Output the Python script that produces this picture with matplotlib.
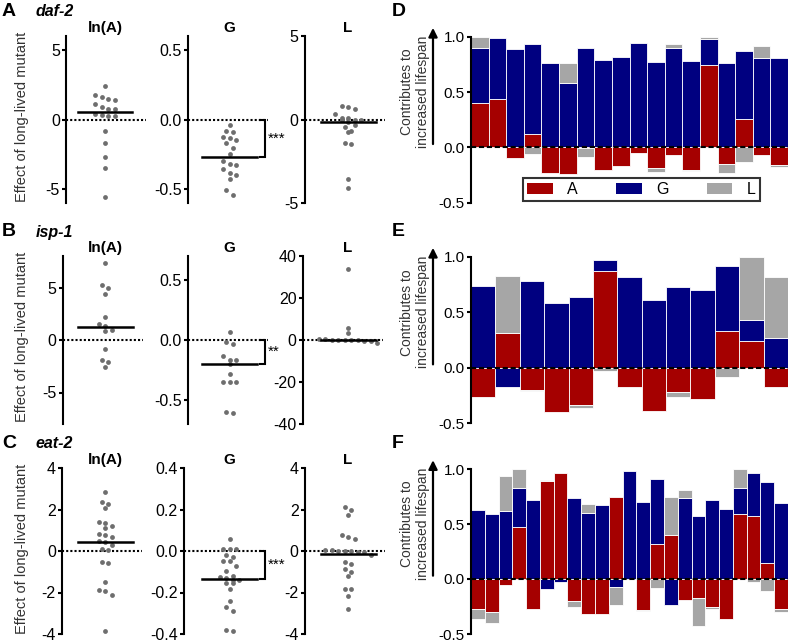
import numpy as np
import matplotlib
matplotlib.use('Agg')
import matplotlib.pyplot as plt
import matplotlib.transforms as mtransforms
from matplotlib.patches import Patch

plt.rcParams['font.family'] = ['Liberation Sans', 'DejaVu Sans']
plt.rcParams['axes.unicode_minus'] = False

# ---- scatter data (effect of long-lived mutant) ----
daf2_lnA = [2.42, 1.77, 1.63, 1.48, 1.41, 1.10, 0.93, 0.79, 0.74, 0.40, 0.30, 0.25, 0.22,
            -0.81, -1.70, -2.66, -3.49, -5.55]
daf2_G = [-0.038, -0.081, -0.089, -0.127, -0.134, -0.144, -0.167, -0.206, -0.246, -0.301,
          -0.318, -0.325, -0.359, -0.388, -0.397, -0.431, -0.51, -0.545]
daf2_L = [0.82, 0.72, 0.64, 0.32, 0.06, 0.06, 0.0, 0.0, -0.04, -0.16, -0.30, -0.42,
          -0.68, -0.76, -1.42, -1.46, -3.58, -4.10]
daf2_line = [0.53, -0.27, -0.14]

isp1_lnA = [7.3, 5.2, 5.0, 4.4, 2.2, 1.5, 1.3, 1.0, 0.85, -0.85, -1.9, -2.1, -2.55]
isp1_G = [0.064, -0.014, -0.033, -0.13, -0.17, -0.17, -0.20, -0.28, -0.35, -0.35, -0.35, -0.60, -0.61]
isp1_L = [33.6, 5.9, 3.2, 0.4, 0.3, 0.2, 0.1, 0.0, -0.1, -0.2, -0.3, -0.4, -1.6]
isp1_line = [1.27, -0.20, 0.0]

eat2_lnA = [2.84, 2.36, 2.28, 2.07, 1.38, 1.33, 1.20, 1.10, 0.80, 0.75, 0.67, 0.46, 0.43, 0.27,
            0.10, 0.03, -0.52, -0.60, -1.48, -1.87, -1.92, -2.10, -3.86]
eat2_G = [0.056, 0.012, 0.010, 0.008, -0.02, -0.03, -0.05, -0.05, -0.07, -0.095, -0.12, -0.125,
          -0.13, -0.14, -0.14, -0.155, -0.155, -0.185, -0.24, -0.27, -0.29, -0.38, -0.385]
eat2_L = [2.14, 2.00, 1.73, 0.78, 0.67, 0.56, 0.05, 0.03, 0.02, 0.0, -0.02, -0.03, -0.05,
          -0.20, -0.55, -0.65, -0.87, -1.00, -1.20, -1.84, -1.84, -2.15, -2.80]
eat2_line = [0.44, -0.135, -0.16]

col_titles = ['ln(A)', 'G', 'L']
stars = ['***', '**', '***']

# ---- stacked bar data (contributions) ----
daf2_posA = [0.40, 0.44, 0, 0.12, 0, 0, 0, 0, 0, 0, 0, 0, 0, 0.74, 0, 0.26, 0, 0]
daf2_posG = [0.50, 0.55, 0.89, 0.81, 0.76, 0.58, 0.90, 0.79, 0.82, 0.94, 0.77, 0.90, 0.78, 0.24, 0.76, 0.61, 0.81, 0.81]
daf2_posL = [0.10, 0, 0, 0, 0, 0.18, 0, 0, 0, 0, 0, 0.03, 0, 0.02, 0, 0, 0.11, 0]
daf2_negA = [0, 0, -0.10, 0, -0.23, -0.24, -0.01, -0.20, -0.17, -0.05, -0.19, -0.07, -0.20, 0, -0.15, 0, -0.07, -0.16]
daf2_negG = [0, 0, 0, 0, 0, 0, 0, 0, 0, 0, 0, 0, 0, 0, 0, 0, 0, 0]
daf2_negL = [0, 0, 0, -0.06, 0, 0, -0.08, 0, 0, 0, -0.03, 0, -0.01, 0, -0.08, -0.13, 0, -0.02]

isp1_posA = [0, 0.31, 0, 0, 0, 0.87, 0, 0, 0, 0, 0.33, 0.24, 0]
isp1_posG = [0.74, 0, 0.78, 0.58, 0.64, 0.10, 0.82, 0.61, 0.73, 0.70, 0.59, 0.19, 0.27]
isp1_posL = [0, 0.52, 0, 0, 0, 0, 0, 0, 0, 0, 0, 0.57, 0.55]
isp1_negA = [-0.26, 0, -0.20, -0.40, -0.34, 0, -0.17, -0.39, -0.22, -0.28, 0, 0, -0.17]
isp1_negG = [0, -0.17, 0, 0, 0, 0, 0, 0, 0, 0, 0, 0, 0]
isp1_negL = [0, 0, -0.01, 0, -0.02, -0.03, 0, 0, -0.04, 0, -0.08, 0, 0]

eat2_posA = [0, 0, 0, 0.47, 0, 0.89, 0.96, 0, 0, 0, 0.75, 0, 0, 0.32, 0.40, 0, 0, 0, 0, 0.59, 0.57, 0.15, 0]
eat2_posG = [0.63, 0.59, 0.62, 0.36, 0.72, 0, 0, 0.74, 0.60, 0.67, 0, 0.98, 0.70, 0.59, 0, 0.74, 0.57, 0.72, 0.64, 0.24, 0.39, 0.73, 0.69]
eat2_posL = [0, 0, 0.32, 0.17, 0, 0.01, 0, 0, 0.08, 0, 0, 0, 0, 0, 0.35, 0.07, 0, 0, 0, 0.17, 0, 0, 0]
eat2_negA = [-0.27, -0.30, -0.05, 0, -0.27, 0, 0, -0.20, -0.32, -0.32, 0, 0, -0.28, 0, 0, -0.19, -0.17, -0.25, -0.36, 0, 0, 0, -0.27]
eat2_negG = [0, 0, 0, 0, 0, -0.09, -0.03, 0, 0, 0, -0.07, 0, 0, 0, -0.24, 0, 0, 0, 0, 0, 0, 0, 0]
eat2_negL = [-0.09, -0.10, 0, 0, 0, 0, 0, -0.05, 0, 0, -0.17, 0, -0.01, -0.08, 0, 0, -0.26, -0.02, 0, 0, -0.03, -0.11, -0.03]

RED = '#a50000'
BLUE = '#000080'
GRAY = '#a6a6a6'
DOT = '#6e6e6e'

W, H = 789, 642
fig = plt.figure(figsize=(W / 100, H / 100), dpi=100)


def px_axes(x0, y0, x1, y1):
    return fig.add_axes([x0 / W, 1 - y1 / H, (x1 - x0) / W, (y1 - y0) / H])


def left_spine_only(ax, fs):
    for s in ['top', 'right', 'bottom']:
        ax.spines[s].set_visible(False)
    ax.spines['left'].set_linewidth(1.5)
    ax.set_xticks([])
    ax.tick_params(axis='y', length=3, width=1.5, labelsize=fs, pad=1.5)
    ax.patch.set_visible(False)


def swarm_x(vals, px_per_unit, bin_px=5.5, dx=6.5):
    # prism style: points close in y are spread out in a horizontal row
    order = np.argsort(vals)[::-1]
    xs = np.zeros(len(vals))
    groups = []
    for i in order:
        if groups and (vals[groups[-1][0]] - vals[i]) * px_per_unit <= bin_px:
            groups[-1].append(i)
        else:
            groups.append([i])
    for g in groups:
        n = len(g)
        for k, i in enumerate(g):
            xs[i] = (k - (n - 1) / 2) * dx
    return xs


def scatter_panel(spine_x, center_x, top, bottom, lim, ticks, fmt, vals, line_val, star=None):
    width = 82
    ax = px_axes(spine_x, top, spine_x + width, bottom)
    x0 = spine_x - center_x
    ax.set_xlim(x0, x0 + width)
    ax.set_ylim(-lim, lim)
    left_spine_only(ax, 11.5)
    ax.set_yticks(ticks)
    ax.set_yticklabels([fmt.format(t) for t in ticks])
    ax.plot([x0, x0 + width - 2], [0, 0], color='k', lw=1.5, ls=(0, (1, 1)), clip_on=False)
    ppu = (bottom - top) / (2 * lim)
    vals = np.array(vals)
    ax.scatter(swarm_x(vals, ppu), vals, s=12, color=DOT, linewidths=0, zorder=3, clip_on=False)
    ax.plot([-27.5, 27.5], [line_val, line_val], color='k', lw=1.8, zorder=4)
    if star is not None:
        xb = 265 - center_x
        ax.plot([xb - 5, xb, xb, xb - 5], [0, 0, line_val, line_val], color='k', lw=1.5,
                clip_on=False, solid_joinstyle='miter')
        ax.text(xb + 3, line_val / 2, star, ha='left', va='center', fontsize=11)
    return ax


def bar_panel(top, bottom, posA, posG, posL, negA, negG, negL, legend=False):
    ax = px_axes(471, top, 788, bottom)
    n = len(posA)
    x = np.arange(n)
    ax.set_xlim(-0.5, n - 0.5)
    ax.set_ylim(-0.5, 1.0)
    left_spine_only(ax, 11)
    ax.set_yticks([-0.5, 0.0, 0.5, 1.0])
    ax.set_yticklabels(['-0.5', '0.0', '0.5', '1.0'])
    posA, posG, posL = np.array(posA), np.array(posG), np.array(posL)
    negA, negG, negL = np.array(negA), np.array(negG), np.array(negL)
    segs = [(posA, 0, RED), (posG, posA, BLUE), (posL, posA + posG, GRAY),
            (negA, 0, RED), (negG, negA, BLUE), (negL, negA + negG, GRAY)]
    for h, b, c in segs:
        b = np.zeros(n) + b
        m = h != 0
        ax.bar(x[m], h[m], bottom=b[m], width=1.0, color=c, edgecolor='white', linewidth=0.6)
    ax.plot([-0.5, n - 0.5], [0, 0], color='k', lw=1.5, ls=(0, (2.5, 1.3)), zorder=5)

    tr = mtransforms.blended_transform_factory(ax.transAxes, ax.transData)
    xa = (433 - 471) / 317
    ax.annotate('', xy=(xa, 1.08), xytext=(xa, 0.03), xycoords=tr, textcoords=tr,
                arrowprops=dict(arrowstyle='-|>', lw=1.6, color='k', mutation_scale=13,
                                shrinkA=0, shrinkB=0), annotation_clip=False)
    ax.text((415 - 471) / 317, 0.5, 'Contributes to\nincreased lifespan', transform=tr,
            rotation=90, ha='center', va='center', fontsize=10, color='#333333', linespacing=1.1)
    if legend:
        handles = [Patch(facecolor=RED, label='A'), Patch(facecolor=BLUE, label='G'),
                   Patch(facecolor=GRAY, label='L')]
        leg = ax.legend(handles=handles, ncol=3, loc='center',
                        bbox_to_anchor=((641.5 - 471) / 317, 0.08), fontsize=11.5,
                        frameon=True, fancybox=False, handlelength=1.6, handleheight=0.7,
                        handletextpad=0.9, columnspacing=2.4, borderpad=0.25, borderaxespad=0)
        leg.get_frame().set_edgecolor('k')
        leg.get_frame().set_linewidth(1.5)
        leg.set_zorder(10)
    return ax


rows = [
    ('A', 'daf-2', 'D', 36, 203, [66, 188, 305], [daf2_lnA, daf2_G, daf2_L], daf2_line,
     [6, 0.6, 5], [[-5, 0, 5], [-0.5, 0.0, 0.5], [-5, 0, 5]]),
    ('B', 'isp-1', 'E', 256, 424, [63, 188, 303], [isp1_lnA, isp1_G, isp1_L], isp1_line,
     [8, 0.7, 40], [[-5, 0, 5], [-0.5, 0.0, 0.5], [-40, -20, 0, 20, 40]]),
    ('C', 'eat-2', 'F', 468, 634, [62, 184, 305], [eat2_lnA, eat2_G, eat2_L], eat2_line,
     [4, 0.4, 4], [[-4, -2, 0, 2, 4], [-0.4, -0.2, 0.0, 0.2, 0.4], [-4, -2, 0, 2, 4]]),
]
centers = [105, 229.5, 348]
fmts = ['{:.0f}', '{:.1f}', '{:.0f}']

for r, (let, gene, rlet, top, bot, spx, data, lines, lims, ticks) in enumerate(rows):
    for c in range(3):
        scatter_panel(spx[c], centers[c], top, bot, lims[c], ticks[c], fmts[c],
                      data[c], lines[c], star=stars[r] if c == 1 else None)
        fig.text(centers[c] / W, 1 - (top - 8) / H, col_titles[c], ha='center',
                 va='center', fontsize=11, fontweight='bold')
    fig.text(2 / W, 1 - (top - 24) / H, let, ha='left', va='center', fontsize=14, fontweight='bold')
    fig.text(36 / W, 1 - (top - 24) / H, gene, ha='left', va='center', fontsize=11.5,
             fontweight='bold', fontstyle='italic')
    fig.text(392 / W, 1 - (top - 24) / H, rlet, ha='left', va='center', fontsize=14, fontweight='bold')
    fig.text(22.5 / W, 1 - (top + 81) / H, 'Effect of long-lived mutant', rotation=90,
             ha='center', va='center', fontsize=10.5, color='#333333')

bar_panel(36.7, 202.7, daf2_posA, daf2_posG, daf2_posL, daf2_negA, daf2_negG, daf2_negL, legend=True)
bar_panel(256.7, 423.2, isp1_posA, isp1_posG, isp1_posL, isp1_negA, isp1_negG, isp1_negL)
bar_panel(469, 634, eat2_posA, eat2_posG, eat2_posL, eat2_negA, eat2_negG, eat2_negL)

fig.savefig('out.png', dpi=100)
